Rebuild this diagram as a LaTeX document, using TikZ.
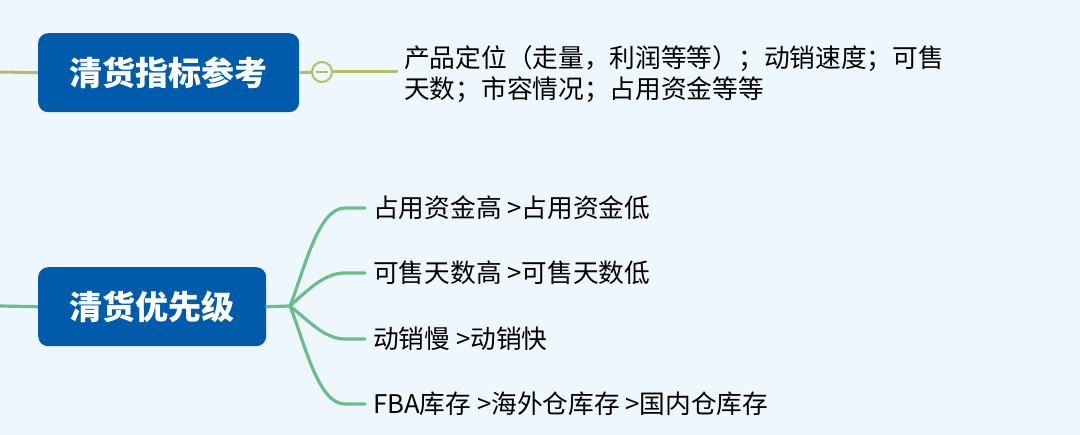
\documentclass[tikz,border=0pt]{standalone}
\usepackage{fontspec}
\setmainfont{Noto Sans CJK SC}
\newfontfamily\cjk{Noto Sans CJK SC}
\definecolor{bg}{HTML}{EEF7FE}
\definecolor{boxblue}{HTML}{005BAA}
\definecolor{olive}{HTML}{B4BD6C}
\definecolor{mint}{HTML}{6CBD8B}
\begin{document}
\begin{tikzpicture}[x=1pt,y=-1pt,
  topic/.style={fill=boxblue, rounded corners=10pt, text=white, font=\cjk\bfseries\fontsize{33}{38}\selectfont, inner sep=0pt, anchor=north west},
  leaf/.style={anchor=west, inner sep=0pt, font=\cjk\fontsize{25.7}{32}\selectfont, text=black, align=left},
  oline/.style={draw=olive, line width=3pt, line cap=round},
  gline/.style={draw=mint, line width=3.2pt, line cap=round}]
\fill[bg] (0,0) rectangle (1080,435);
\useasboundingbox (0,0) rectangle (1080,435);
% top topic
\node[topic, minimum width=261pt, minimum height=79pt] (t1) at (38,33) {清货指标参考};
\coordinate (l1) at (0,72);
\draw[oline, line cap=butt] (l1) -- (t1.west);
\coordinate (c1) at (322,72);
\coordinate (e1) at (397,72);
\draw[oline, line cap=butt] (t1.east) -- (c1);
\draw[oline] (c1) -- (e1);
\node[circle, draw=olive, line width=2pt, fill=bg, minimum size=20pt, inner sep=0pt] (k1) at (c1) {};
\draw[olive, line width=1.6pt] ([xshift=-6pt]k1.center) -- ([xshift=6pt]k1.center);
\node[leaf, anchor=north west, text width=600pt] (d1) at (404,45) {产品定位（走量，利润等等）；动销速度；可售\\[-1pt]天数；市容情况；占用资金等等};
% bottom topic
\node[topic, minimum width=228pt, minimum height=79pt] (t2) at (38,267) {清货优先级};
\coordinate (l2) at (0,306);
\draw[gline, line cap=butt] (l2) -- (t2.west);
\coordinate (b) at (290,306);
\draw[gline] (t2.east) -- (b);
\coordinate (a1) at (365,208);
\coordinate (a2) at (365,273);
\coordinate (a3) at (365,339);
\coordinate (a4) at (365,404);
\draw[gline] (b) .. controls (305,268) and (318,208) .. (345,208) -- (a1);
\draw[gline] (b) .. controls (310,288) and (325,273) .. (345,273) -- (a2);
\draw[gline] (b) .. controls (310,322) and (325,339) .. (345,339) -- (a3);
\draw[gline] (b) .. controls (305,344) and (318,404) .. (345,404) -- (a4);
\node[leaf] (n1) at (373,208) {占用资金高 >占用资金低};
\node[leaf] (n2) at (373,273) {可售天数高 >可售天数低};
\node[leaf] (n3) at (373,339) {动销慢 >动销快};
\node[leaf] (n4) at (373,404) {FBA库存 >海外仓库存 >国内仓库存};
\end{tikzpicture}
\end{document}
